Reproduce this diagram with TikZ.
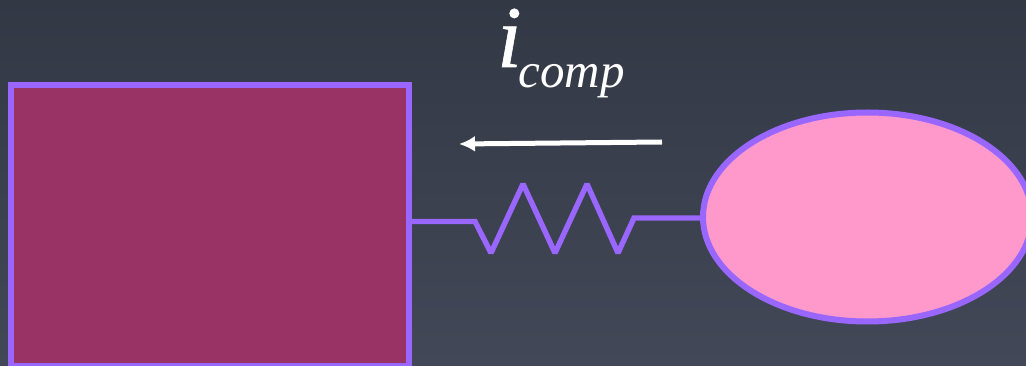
\documentclass[tikz,border=0pt]{standalone}
\usepackage{fontspec}
\setmainfont{Liberation Serif}
\newfontfamily\heavyi[FakeBold=0.7]{Liberation Serif Italic}
\definecolor{bgtop}{HTML}{333845}
\definecolor{bgbot}{HTML}{434858}
\definecolor{edge}{HTML}{9966FF}
\definecolor{boxfill}{HTML}{993366}
\definecolor{ellfill}{HTML}{FF99CC}
\usetikzlibrary{shapes.geometric,arrows.meta}
\tikzset{x=1pt,y=-1pt,
 wire/.style={draw=edge,line width=5.4pt,line join=miter,miter limit=2},
 current/.style={draw=white,line width=5pt,-{Latex[length=16pt,width=16pt]}}}
\begin{document}
\begin{tikzpicture}
\useasboundingbox (0,0) rectangle (1026,366);
\shade[top color=bgtop,bottom color=bgbot] (0,0) rectangle (1026,366);
\node[draw=edge,line width=6pt,fill=boxfill,minimum width=398pt,minimum height=280pt,inner sep=0pt,outer sep=0pt,anchor=north west] (box) at (11,85.5) {};
\node[ellipse,draw=edge,line width=6pt,fill=ellfill,minimum width=329pt,minimum height=209pt,inner sep=0pt,outer sep=0pt] (ell) at (867.5,217) {};
\coordinate (arrowstart) at (662,142);
\coordinate (arrowend) at (459,144);
\draw[current] (arrowstart) -- (arrowend);
\draw[wire] (box.east |- 0,221.5) -- (475,221.5) -- (491,253) -- (523,184) -- (555,253) -- (587,184) -- (618,253) -- (634,218) -- (ell.west |- 0,218);
\node[text=white,inner sep=0pt,anchor=base west] (lbl) at (497,67) {\heavyi\fontsize{88}{88}\selectfont i\hspace{-3pt}\raisebox{-21pt}{\fontsize{49}{49}\selectfont\rmfamily\itshape comp}};
\end{tikzpicture}
\end{document}
